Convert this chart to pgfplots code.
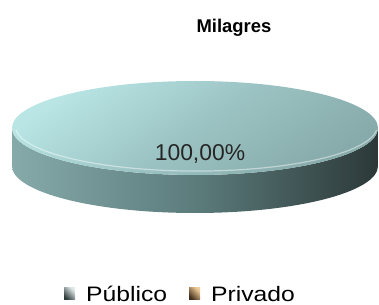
\documentclass[border=0pt]{standalone}
\usepackage{pgfplots}
\usepackage{pgfplotstable}
\pgfplotsset{compat=1.18}
\usepackage{fontspec}
\setmainfont{Liberation Sans}
\newfontfamily\legfont[FakeStretch=1.18]{Liberation Sans}
\pgfplotstableread[col sep=comma]{
sector,value
Público,100
Privado,0
}\piedata
\definecolor{topA}{HTML}{B9E5E5}
\definecolor{topB}{HTML}{9CC3C3}
\definecolor{topC}{HTML}{87AAAA}
\definecolor{sideA}{HTML}{86AAAA}
\definecolor{sideB}{HTML}{5C7C7C}
\definecolor{sideC}{HTML}{2C3838}
\definecolor{privA}{HTML}{F0CC98}
\definecolor{privB}{HTML}{3E2A1A}
\begin{document}
\begin{tikzpicture}
\pgfplotstablegetelem{0}{value}\of\piedata
\let\pubval\pgfplotsretval
\begin{axis}[
  width=379bp, height=305bp, scale only axis,
  xmin=0, xmax=379, ymin=0, ymax=305,
  hide axis, clip=false,
]
\path (axis cs:0,0) rectangle (axis cs:379,305);
% side of disc
\shade[left color=sideA, right color=sideC, middle color=sideB]
  (axis cs:12,177) -- (axis cs:12,139)
  arc[start angle=180, end angle=360, x radius=183bp, y radius=47bp]
  -- (axis cs:378,177)
  arc[start angle=0, end angle=-180, x radius=183bp, y radius=47bp] -- cycle;
% top face
\shade[top color=topA, bottom color=topC, middle color=topB, shading angle=35]
  (axis cs:195,177) ellipse [x radius=183bp, y radius=47bp];
\draw[white, opacity=0.45, line width=1.2bp]
  (axis cs:16,175) arc[start angle=185, end angle=355, x radius=181bp, y radius=45bp];
% label
\node[anchor=base, font=\fontsize{23}{27}\selectfont, text=black!85]
  at (axis cs:200,144) {\pgfmathprintnumber[fixed, fixed zerofill, precision=2, use comma, assume math mode=true]{\pubval}\%};
% title
\node[anchor=base, font=\fontsize{18.5}{22}\selectfont\bfseries] at (axis cs:234,272) {Milagres};
% legend
\shade[left color=white!75!sideA, right color=sideC, shading angle=-45]
  (axis cs:64,5) rectangle (axis cs:75,17);
\node[anchor=base west, inner sep=0pt, font=\fontsize{21}{25}\legfont] at (axis cs:86,4) {Público};
\shade[left color=privA, right color=privB, shading angle=-45]
  (axis cs:189,5) rectangle (axis cs:200,17);
\node[anchor=base west, inner sep=0pt, font=\fontsize{21}{25}\legfont] at (axis cs:211,4) {Privado};
\end{axis}
\end{tikzpicture}
\end{document}
